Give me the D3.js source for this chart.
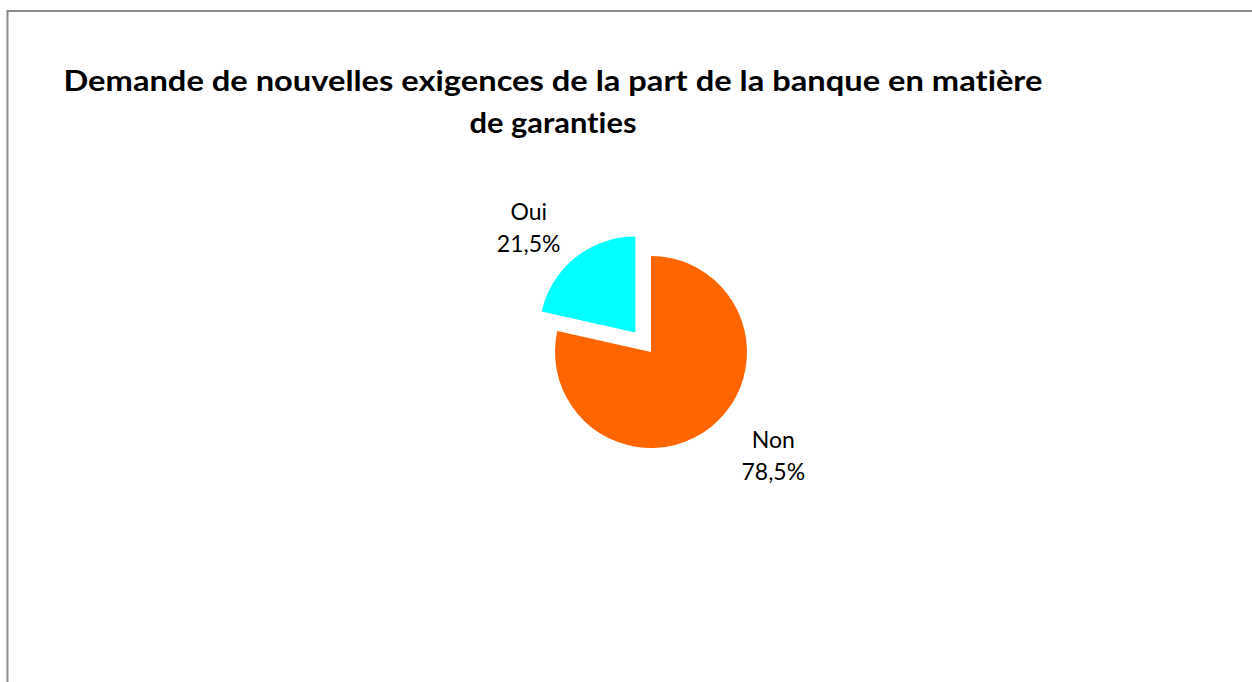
<!DOCTYPE html>
<html>
<head>
<meta charset="utf-8">
<script src="https://cdn.jsdelivr.net/npm/d3@7"></script>
<style>
  html, body { margin: 0; padding: 0; background: #fff; }
  svg { display: block; }
  text { font-variant-ligatures: none; font-feature-settings: "liga" 0, "clig" 0; }
</style>
</head>
<body>
<svg id="chart"></svg>
<script>
// chart values
const categories = ["Non", "Oui"];
const values = [78.5, 21.5];
const labels = ["78,5%", "21,5%"];
const colors = ["#ff6600", "#00ffff"];
const exploded = [false, true];
const titleLines = [
    "Demande de nouvelles exigences de la part de la banque en matière",
    "de garanties"
];

const W = 1252, H = 682;
const cx = 651, cy = 352, radius = 96;
const EXPLODE = 25;

const svg = d3.select("#chart")
    .attr("width", W)
    .attr("height", H);

// frame (right and bottom edges run off the picture)
svg.append("rect")
    .attr("x", 7.5)
    .attr("y", 11)
    .attr("width", W + 20)
    .attr("height", H + 20)
    .attr("fill", "#fff")
    .attr("stroke", "#8c8c8c")
    .attr("stroke-width", 2);

// title, stretched to the widths of the original lines
const titleWidths = [979, 167];
svg.append("g")
    .selectAll("text")
    .data(titleLines)
    .enter()
    .append("text")
    .attr("x", 553)
    .attr("y", (d, i) => 91 + i * 42)
    .attr("text-anchor", "middle")
    .attr("textLength", (d, i) => titleWidths[i])
    .attr("lengthAdjust", "spacingAndGlyphs")
    .style("font-family", "Lato, 'Open Sans', sans-serif")
    .style("font-weight", "bold")
    .style("font-size", "28px")
    .style("fill", "#000")
    .text(d => d);

const data = categories.map((c, i) => ({
    name: c, value: values[i], label: labels[i], color: colors[i], explode: exploded[i]
}));

const pie = d3.pie()
    .sort(null)
    .value(d => d.value);

const arc = d3.arc()
    .innerRadius(0)
    .outerRadius(radius);

const labelArc = d3.arc()
    .innerRadius(170)
    .outerRadius(170);

const arcs = pie(data);

const g = svg.append("g")
    .attr("transform", "translate(" + cx + "," + cy + ")");

function offset(d) {
    if (!d.data.explode) return [0, 0];
    let a = (d.startAngle + d.endAngle) / 2;
    return [Math.sin(a) * EXPLODE, -Math.cos(a) * EXPLODE];
}

g.selectAll("path")
    .data(arcs)
    .enter()
    .append("path")
    .attr("d", arc)
    .attr("transform", d => "translate(" + offset(d) + ")")
    .style("fill", d => d.data.color);

// label nudges, best-fit placement as in the original
const nudge = [[16, -32], [-16, 6]];

const lab = g.selectAll(".lbl")
    .data(arcs)
    .enter()
    .append("text")
    .attr("class", "lbl")
    .attr("transform", (d, i) => {
        let c = labelArc.centroid(d);
        return "translate(" + (c[0] + nudge[i][0]) + "," + (c[1] + nudge[i][1]) + ")";
    })
    .attr("text-anchor", "middle")
    .style("font-family", "Lato, 'Open Sans', sans-serif")
    .style("font-size", "23px")
    .style("fill", "#000");

lab.append("tspan")
    .attr("x", 0)
    .attr("y", -5)
    .text(d => d.data.name);

lab.append("tspan")
    .attr("x", 0)
    .attr("y", 27)
    .text(d => d.data.label);
</script>
</body>
</html>
